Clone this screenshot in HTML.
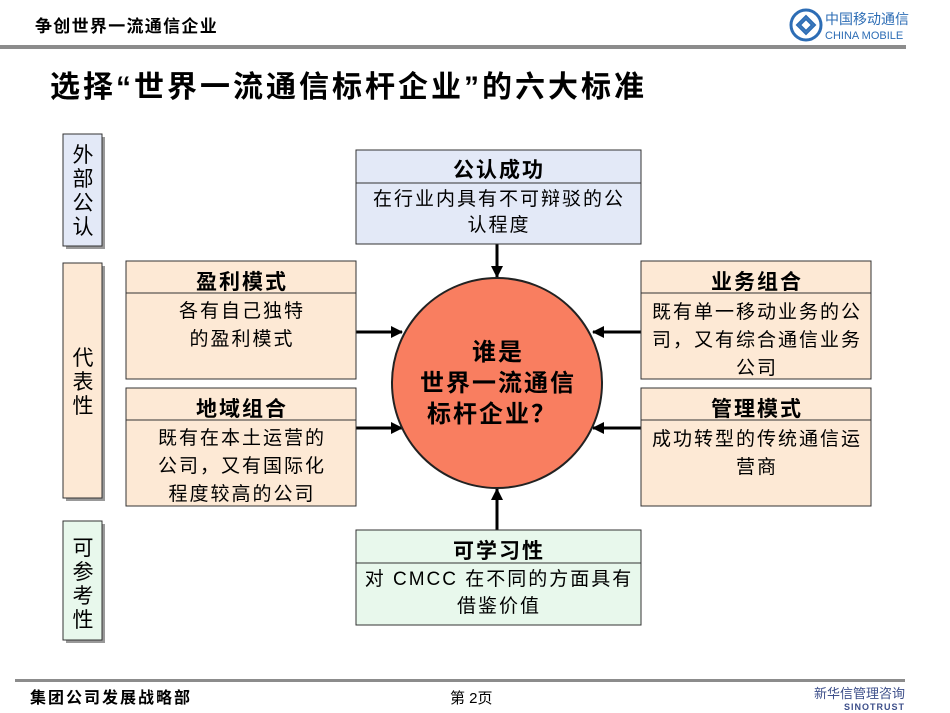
<!DOCTYPE html>
<html><head><meta charset="utf-8"><style>
html,body{margin:0;padding:0;background:#fff;}
body{width:950px;height:713px;overflow:hidden;position:relative;font-family:"Liberation Sans","Noto Sans CJK SC",sans-serif;}
svg{position:absolute;left:0;top:0;}
text{font-family:"Liberation Sans","Noto Sans CJK SC",sans-serif;fill:#000;}
.h{font-weight:bold;font-size:21px;text-anchor:middle;letter-spacing:2px;}
.b{font-size:19px;text-anchor:middle;letter-spacing:2px;}
.v{font-size:21px;text-anchor:middle;}
</style></head><body>
<svg width="950" height="713" viewBox="0 0 950 713">
<defs>
<marker id="a" markerWidth="12" markerHeight="12" refX="11" refY="6" orient="auto" markerUnits="userSpaceOnUse"><path d="M0,0 L12,6 L0,12 z" fill="#000"/></marker>
</defs>
<text x="35" y="32" style="font-size:17px;font-weight:bold;letter-spacing:1.3px">争创世界一流通信企业</text>
<rect x="0" y="45" width="906" height="4" fill="#8c8c8c"/>
<circle cx="806" cy="25" r="15" fill="none" stroke="#2d6db5" stroke-width="3"/>
<path d="M797,25 L806,16 L815,25 L806,34 z M800,25 L806,19 L812,25 L806,31 z" fill="none" stroke="#2d6db5" stroke-width="2"/>
<text x="825" y="24" style="font-size:14px;fill:#2d6db5">中国移动通信</text>
<text x="825" y="39" style="font-size:11px;fill:#2d6db5">CHINA MOBILE</text>
<text x="50" y="97" style="font-size:30px;font-weight:bold;letter-spacing:3px">选择“世界一流通信标杆企业”的六大标准</text>

<rect x="66" y="137" width="39" height="112" fill="#999"/>
<rect x="63" y="134" width="39" height="112" fill="#e3e9f7" stroke="#333" stroke-width="1"/>
<text class="v" x="83" y="162">外</text><text class="v" x="83" y="186">部</text><text class="v" x="83" y="210">公</text><text class="v" x="83" y="234">认</text>
<rect x="66" y="266" width="39" height="235" fill="#999"/>
<rect x="63" y="263" width="39" height="235" fill="#fde9d5" stroke="#333" stroke-width="1"/>
<text class="v" x="83" y="365">代</text><text class="v" x="83" y="389">表</text><text class="v" x="83" y="413">性</text>
<rect x="66" y="524" width="39" height="119" fill="#999"/>
<rect x="63" y="521" width="39" height="119" fill="#e8f8ec" stroke="#333" stroke-width="1"/>
<text class="v" x="83" y="555">可</text><text class="v" x="83" y="579">参</text><text class="v" x="83" y="603">考</text><text class="v" x="83" y="627">性</text>

<g stroke="#000" stroke-width="3">
<line x1="497" y1="244" x2="497" y2="277" marker-end="url(#a)"/>
<line x1="356" y1="332" x2="402" y2="332" marker-end="url(#a)"/>
<line x1="356" y1="428" x2="402" y2="428" marker-end="url(#a)"/>
<line x1="641" y1="332" x2="593" y2="332" marker-end="url(#a)"/>
<line x1="641" y1="428" x2="593" y2="428" marker-end="url(#a)"/>
<line x1="497" y1="530" x2="497" y2="489" marker-end="url(#a)"/>
</g>

<rect x="356" y="150" width="285" height="94" fill="#e3e9f7" stroke="#333"/>
<line x1="356" y1="183" x2="641" y2="183" stroke="#333"/>
<text class="h" x="499" y="177">公认成功</text>
<text class="b" x="499" y="205">在行业内具有不可辩驳的公</text>
<text class="b" x="499" y="231">认程度</text>

<rect x="126" y="261" width="230" height="118" fill="#fde9d5" stroke="#333"/>
<line x1="126" y1="293" x2="356" y2="293" stroke="#333"/>
<text class="h" x="242" y="289">盈利模式</text>
<text class="b" x="242" y="317">各有自己独特</text>
<text class="b" x="242" y="345">的盈利模式</text>

<rect x="126" y="388" width="230" height="118" fill="#fde9d5" stroke="#333"/>
<line x1="126" y1="420" x2="356" y2="420" stroke="#333"/>
<text class="h" x="242" y="416">地域组合</text>
<text class="b" x="242" y="444">既有在本土运营的</text>
<text class="b" x="242" y="472">公司，又有国际化</text>
<text class="b" x="242" y="500">程度较高的公司</text>

<rect x="641" y="261" width="230" height="118" fill="#fde9d5" stroke="#333"/>
<line x1="641" y1="293" x2="871" y2="293" stroke="#333"/>
<text class="h" x="757" y="289">业务组合</text>
<text class="b" x="757" y="318">既有单一移动业务的公</text>
<text class="b" x="757" y="346">司，又有综合通信业务</text>
<text class="b" x="757" y="374">公司</text>

<rect x="641" y="388" width="230" height="118" fill="#fde9d5" stroke="#333"/>
<line x1="641" y1="420" x2="871" y2="420" stroke="#333"/>
<text class="h" x="757" y="416">管理模式</text>
<text class="b" x="757" y="445">成功转型的传统通信运</text>
<text class="b" x="757" y="473">营商</text>

<rect x="356" y="530" width="285" height="95" fill="#e8f8ec" stroke="#333"/>
<line x1="356" y1="563" x2="641" y2="563" stroke="#333"/>
<text class="h" x="499" y="558">可学习性</text>
<text class="b" x="499" y="585">对 CMCC 在不同的方面具有</text>
<text class="b" x="499" y="612">借鉴价值</text>

<circle cx="497" cy="383" r="105" fill="#f97e60" stroke="#222" stroke-width="2"/>
<text x="498" y="360" style="font-size:24px;font-weight:bold;text-anchor:middle;letter-spacing:2px">谁是</text>
<text x="498" y="391" style="font-size:24px;font-weight:bold;text-anchor:middle;letter-spacing:2px">世界一流通信</text>
<text x="492" y="422" style="font-size:24px;font-weight:bold;text-anchor:middle;letter-spacing:2px">标杆企业？</text>

<rect x="15" y="679" width="890" height="3" fill="#8c8c8c"/>
<text x="30" y="703" style="font-size:16px;font-weight:bold;letter-spacing:2px">集团公司发展战略部</text>
<text x="450" y="703" style="font-size:15px">第 2页</text>
<text x="905" y="698" style="font-size:13px;fill:#3d4f8a;text-anchor:end">新华信管理咨询</text>
<text x="905" y="710" style="font-size:9px;font-weight:bold;fill:#3d4f8a;text-anchor:end;letter-spacing:1px">SINOTRUST</text>
</svg>
</body></html>
